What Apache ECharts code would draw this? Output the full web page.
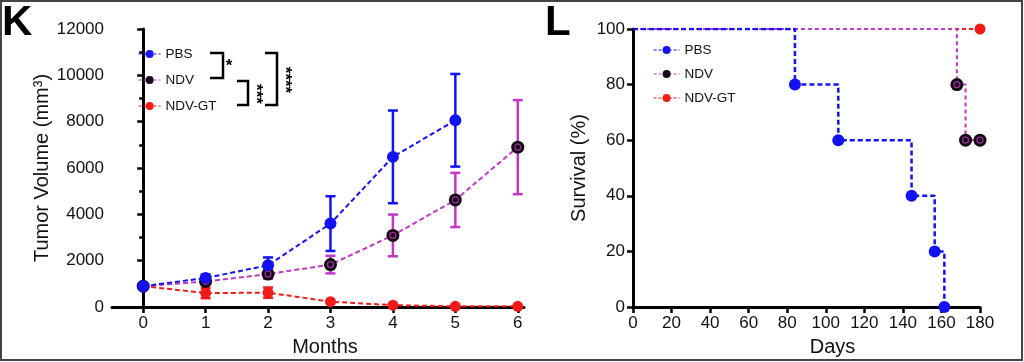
<!DOCTYPE html>
<html>
<head>
<meta charset="utf-8">
<script src="https://cdn.jsdelivr.net/npm/echarts@6/dist/echarts.min.js"></script>
<style>
html,body{margin:0;padding:0;background:#fff;}
#chart{width:1024px;height:362px;}
</style>
</head>
<body>
<div id="chart"></div>
<script>
// ---------- Data ----------
var seriesNames = ['PBS', 'NDV', 'NDV-GT'];
// Panel K: tumor volume by month
var monthsPBS = [0, 1, 2, 3, 4, 5];
var volPBS = [900, 1250, 1800, 3600, 6480, 8060];
var errPBS = [0, 150, 340, 1180, 2000, 2000];
var monthsNDV = [0, 1, 2, 3, 4, 5, 6];
var volNDV = [900, 1100, 1420, 1830, 3090, 4620, 6900];
var errNDV = [0, 150, 200, 380, 900, 1170, 2030];
var monthsGT = [0, 1, 2, 3, 4, 5, 6];
var volGT = [900, 600, 620, 230, 80, 30, 30];
var errGT = [0, 220, 220, 0, 0, 0, 0];
var monthTicks = [0, 1, 2, 3, 4, 5, 6];
// Panel L: survival (%) by day
var daysPBS = [0, 84, 106.5, 144.5, 156.5, 161.5];
var survPBS = [100, 80, 60, 40, 20, 0];
var daysNDV = [0, 168, 172.5, 180];
var survNDV = [100, 80, 60, 60];
var daysGT = [0, 180];
var survGT = [100, 100];

// ---------- Styles ----------
var cPBS = '#1212f5', cNDV = '#c436c8', cGT = '#f51a1a', cNDVfill = '#140814';
var FONT = 'Liberation Sans, Arial, Helvetica, sans-serif';

function pairs(xs, ys) { return xs.map(function (x, i) { return [x, ys[i]]; }); }
function errData(xs, ys, es) {
  var out = [];
  xs.forEach(function (x, i) { if (es[i] > 0) out.push([x, ys[i], ys[i] - es[i], ys[i] + es[i]]); });
  return out;
}
function errSeries(name, xs, ys, es, color) {
  return {
    type: 'custom', name: name + '-err', xAxisIndex: 0, yAxisIndex: 0, z: 1,
    data: errData(xs, ys, es), silent: true,
    renderItem: function (params, api) {
      var x = api.value(0);
      var lo = api.coord([x, api.value(2)]);
      var hi = api.coord([x, api.value(3)]);
      var hw = 5;
      var st = { stroke: color, lineWidth: 2.5 };
      return {
        type: 'group', children: [
          { type: 'line', shape: { x1: lo[0], y1: lo[1], x2: hi[0], y2: hi[1] }, style: st },
          { type: 'line', shape: { x1: lo[0] - hw, y1: lo[1], x2: lo[0] + hw, y2: lo[1] }, style: st },
          { type: 'line', shape: { x1: hi[0] - hw, y1: hi[1], x2: hi[0] + hw, y2: hi[1] }, style: st }
        ]
      };
    }
  };
}
function survData(xs, ys) {
  return xs.map(function (x, i) {
    var d = { value: [x, ys[i]] };
    if (i === 0) d.symbol = 'none';
    return d;
  });
}
function markedPoints(xs, ys) {
  var out = [];
  xs.forEach(function (x, i) { if (i > 0) out.push([x, ys[i]]); });
  return out;
}

var axisLine = { show: true, lineStyle: { color: '#000', width: 3 } };
var axisTick = { show: true, length: 6, lineStyle: { color: '#000', width: 2.5 } };
var axisLabel = { color: '#111', fontSize: 17, fontFamily: FONT, margin: 8, formatter: function (v) { return String(v); } };
var nameStyle = { color: '#111', fontSize: 20, fontFamily: FONT };
var legendCommon = {
  orient: 'vertical', itemWidth: 22, itemHeight: 10, selectedMode: false, padding: 0,
  lineStyle: { width: 1.2, type: [3, 2] },
  textStyle: { fontSize: 13.5, fontFamily: FONT, color: '#111' }
};

var chart = echarts.init(document.getElementById('chart'), null, { renderer: 'canvas' });
var option = {
  backgroundColor: '#fff',
  animation: false,
  grid: [
    { left: 112, top: 29, width: 412, height: 278 },
    { left: 633, top: 29, width: 347, height: 278 }
  ],
  legend: [
    Object.assign({}, legendCommon, { data: seriesNames, left: 138, top: 47, itemGap: 12 }),
    Object.assign({}, legendCommon, { data: seriesNames, left: 653, top: 43, itemGap: 10, itemWidth: 26 })
  ],
  xAxis: [
    {
      gridIndex: 0, type: 'value', min: -0.5, max: 6.1,
      name: 'Months', nameLocation: 'middle', nameGap: 30,
      nameTextStyle: Object.assign({ padding: [0, 0, 0, 14] }, nameStyle),
      axisLine: axisLine, splitLine: { show: false },
      axisTick: Object.assign({ customValues: monthTicks }, axisTick),
      axisLabel: Object.assign({ customValues: monthTicks }, axisLabel)
    },
    {
      gridIndex: 1, type: 'value', min: 0, max: 180, interval: 20,
      name: 'Days', nameLocation: 'middle', nameGap: 30,
      nameTextStyle: Object.assign({ padding: [0, 0, 0, 52] }, nameStyle),
      axisLine: axisLine, splitLine: { show: false }, axisTick: axisTick, axisLabel: axisLabel
    }
  ],
  yAxis: [
    {
      gridIndex: 0, type: 'value', min: 0, max: 12000, interval: 2000,
      name: 'Tumor Volume (mm³)', nameLocation: 'middle', nameGap: 58, nameTextStyle: nameStyle,
      axisLine: axisLine, splitLine: { show: false }, axisTick: axisTick, axisLabel: axisLabel,
      minorTick: { show: true, splitNumber: 2, length: 4, lineStyle: { color: '#000', width: 2.5 } }
    },
    {
      gridIndex: 1, type: 'value', min: 0, max: 100, interval: 20,
      name: 'Survival (%)', nameLocation: 'middle', nameGap: 44, nameTextStyle: nameStyle,
      axisLine: axisLine, splitLine: { show: false }, axisTick: axisTick, axisLabel: axisLabel
    }
  ],
  series: [
    errSeries('NDV-GT', monthsGT, volGT, errGT, cGT),
    errSeries('NDV', monthsNDV, volNDV, errNDV, cNDV),
    errSeries('PBS', monthsPBS, volPBS, errPBS, cPBS),
    {
      name: 'NDV-GT', type: 'line', xAxisIndex: 0, yAxisIndex: 0, z: 2,
      data: pairs(monthsGT, volGT), symbol: 'circle', symbolSize: 11,
      itemStyle: { color: cGT }, lineStyle: { color: cGT, width: 2, type: [5, 3] }
    },
    {
      name: 'NDV', type: 'line', xAxisIndex: 0, yAxisIndex: 0, z: 3,
      data: pairs(monthsNDV, volNDV), symbol: 'circle', symbolSize: 13,
      itemStyle: { color: cNDVfill }, lineStyle: { color: cNDV, width: 2, type: [5, 3] }
    },
    {
      name: 'NDV-ring', type: 'scatter', xAxisIndex: 0, yAxisIndex: 0, z: 4, silent: true,
      data: pairs(monthsNDV, volNDV), symbol: 'circle', symbolSize: 6,
      itemStyle: { color: cNDVfill, borderColor: cNDV, borderWidth: 1.2 }
    },
    {
      name: 'PBS', type: 'line', xAxisIndex: 0, yAxisIndex: 0, z: 5,
      data: pairs(monthsPBS, volPBS), symbol: 'circle', symbolSize: 12,
      itemStyle: { color: cPBS }, lineStyle: { color: cPBS, width: 2, type: [5, 3] }
    },
    // Panel L
    {
      name: 'NDV-GT', type: 'line', xAxisIndex: 1, yAxisIndex: 1, step: 'end', z: 2,
      data: survData(daysGT, survGT), symbol: 'circle', symbolSize: 11,
      itemStyle: { color: cGT }, lineStyle: { color: cGT, width: 2, type: [4, 3] }
    },
    {
      name: 'NDV', type: 'line', xAxisIndex: 1, yAxisIndex: 1, step: 'end', z: 3,
      data: survData(daysNDV, survNDV), symbol: 'circle', symbolSize: 13,
      itemStyle: { color: cNDVfill }, lineStyle: { color: cNDV, width: 2, type: [4, 3] }
    },
    {
      name: 'NDV-ring2', type: 'scatter', xAxisIndex: 1, yAxisIndex: 1, z: 4, silent: true,
      data: markedPoints(daysNDV, survNDV), symbol: 'circle', symbolSize: 6,
      itemStyle: { color: cNDVfill, borderColor: cNDV, borderWidth: 1.2 }
    },
    {
      name: 'PBS', type: 'line', xAxisIndex: 1, yAxisIndex: 1, step: 'end', z: 5,
      data: survData(daysPBS, survPBS), symbol: 'circle', symbolSize: 12,
      itemStyle: { color: cPBS }, lineStyle: { color: cPBS, width: 2.5, type: [5, 3] }
    }
  ],
  graphic: [
    { type: 'rect', shape: { x: 1, y: 1, width: 1021, height: 359 }, style: { fill: 'none', stroke: '#444', lineWidth: 2 }, silent: true },
    { type: 'text', left: 2, top: 2, style: { text: 'K', fontSize: 42, fontWeight: 'bold', fontFamily: FONT, fill: '#000' } },
    { type: 'text', left: 545, top: 2, style: { text: 'L', fontSize: 42, fontWeight: 'bold', fontFamily: FONT, fill: '#000' } },
    { type: 'polyline', shape: { points: [[210, 53], [223, 53], [223, 78], [210, 78]] }, style: { stroke: '#000', lineWidth: 2.5, fill: 'none' } },
    { type: 'polyline', shape: { points: [[237, 81], [248, 81], [248, 105], [237, 105]] }, style: { stroke: '#000', lineWidth: 2.5, fill: 'none' } },
    { type: 'polyline', shape: { points: [[265, 53], [277, 53], [277, 105], [265, 105]] }, style: { stroke: '#000', lineWidth: 2.5, fill: 'none' } },
    { type: 'text', x: 229, y: 66, style: { text: '*', fontSize: 17, fontWeight: 'bold', fontFamily: FONT, fill: '#000', align: 'center', verticalAlign: 'middle' } },
    { type: 'text', x: 256, y: 94, rotation: -Math.PI / 2, style: { text: '***', fontSize: 17, fontWeight: 'bold', fontFamily: FONT, fill: '#000', align: 'center', verticalAlign: 'middle' } },
    { type: 'text', x: 285, y: 80, rotation: -Math.PI / 2, style: { text: '****', fontSize: 17, fontWeight: 'bold', fontFamily: FONT, fill: '#000', align: 'center', verticalAlign: 'middle' } }
  ]
};
chart.setOption(option);
</script>
</body>
</html>
